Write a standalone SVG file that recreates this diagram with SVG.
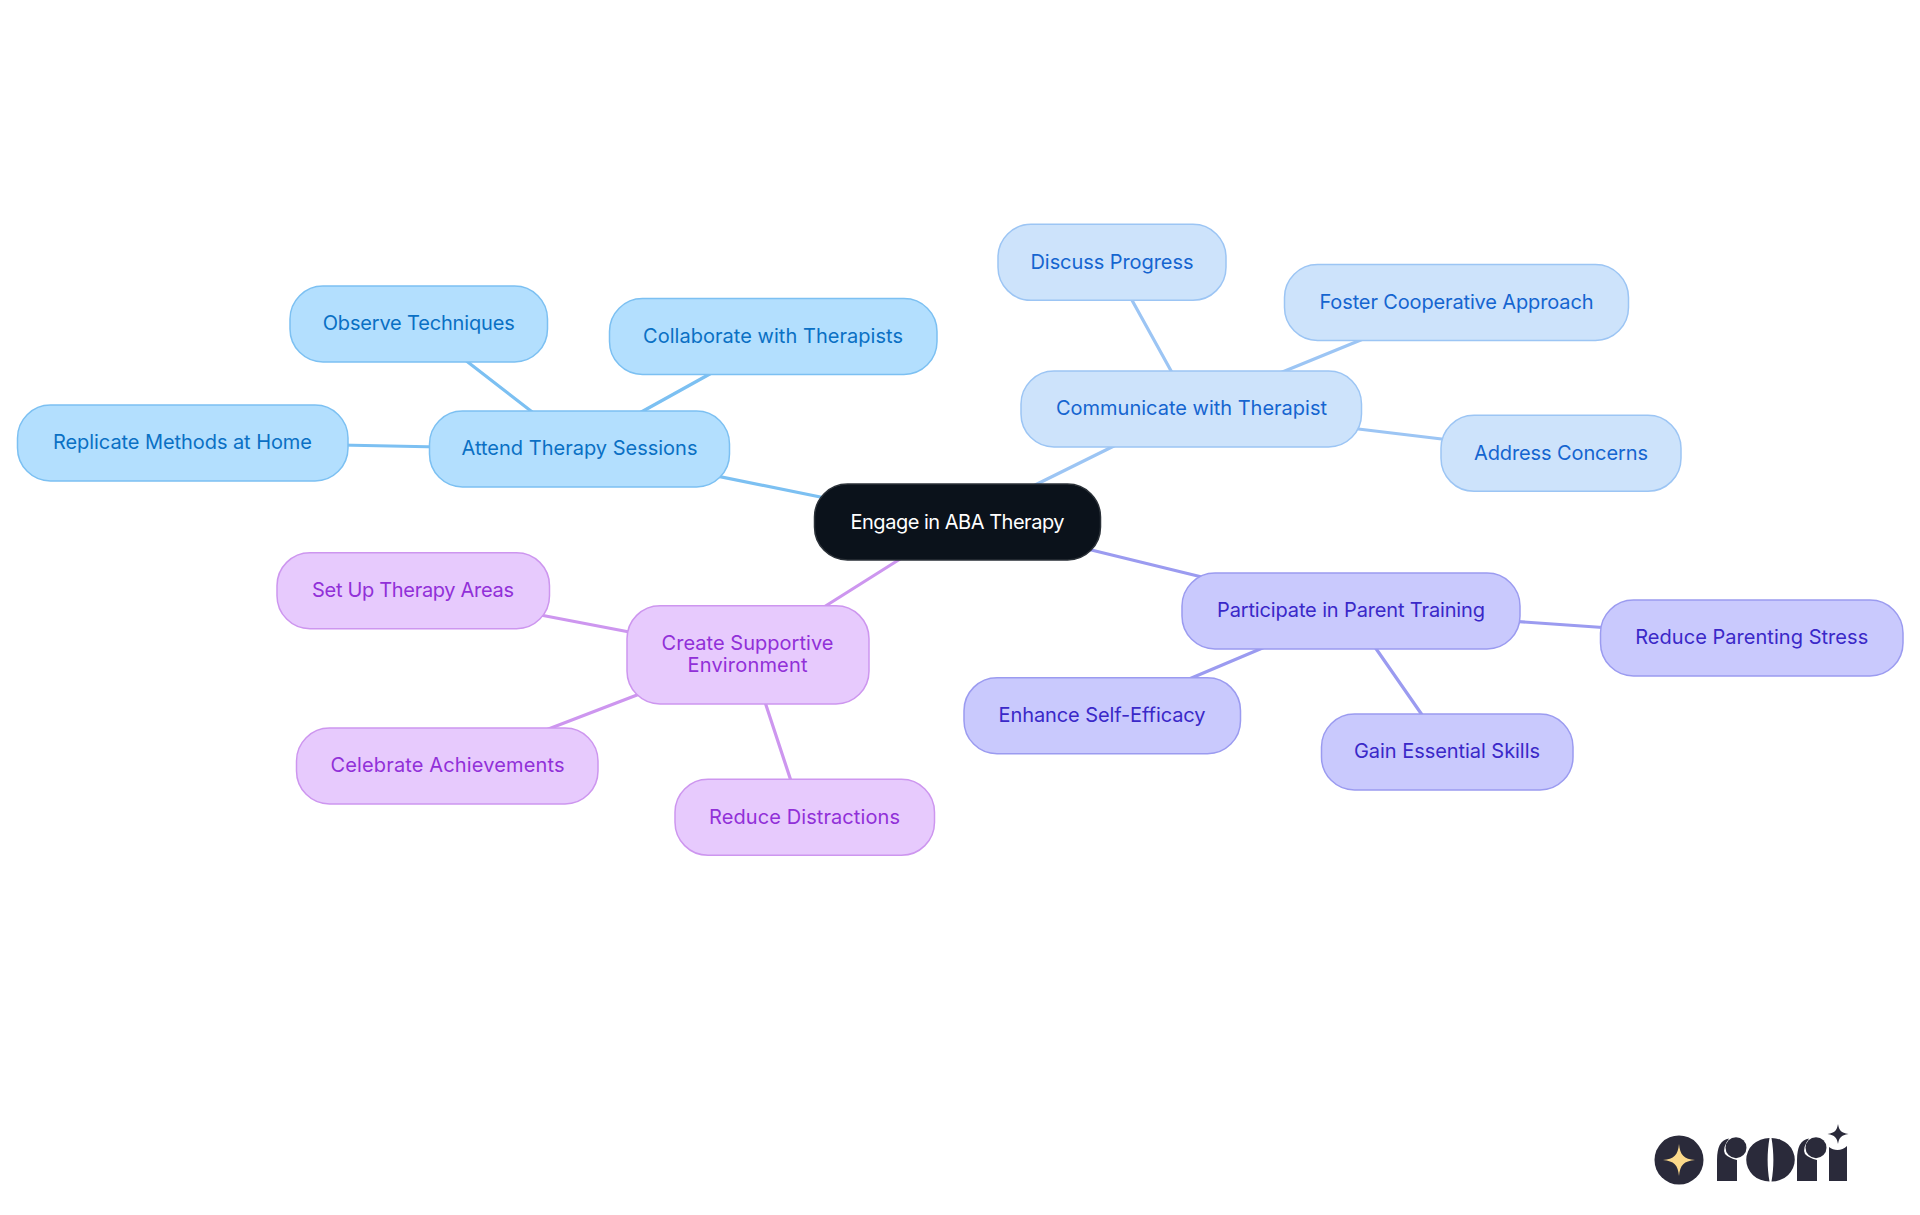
<svg xmlns="http://www.w3.org/2000/svg" width="1920" height="1215" viewBox="0 0 1920 1215">
<style>
text{font-family:"Inter","Noto Sans","Liberation Sans",sans-serif;font-size:20px;text-anchor:middle}
rect{stroke-width:1.5}
.c path{fill:none;stroke-width:3.2}
.a rect{fill:#b3dffe;stroke:#7cc0f2}.a text{fill:#0a70c4}
.b rect{fill:#cde3fb;stroke:#9cc5f4}.b text{fill:#1565d0}
.d rect{fill:#c9c9fd;stroke:#9b9bf0}.d text{fill:#3a28c8}
.e rect{fill:#e7cafd;stroke:#cd96ef}.e text{fill:#9130d8}
</style>
<rect width="1920" height="1215" fill="#fff" style="stroke:none"/>
<g class="c" id="connectors">
<path stroke="#7cc0f2" d="M840 501L705 473.600M540 418L460 356M635 415.500L717 370M440 447L340 445"/>
<path stroke="#9cc5f4" d="M1025 490L1124 441M1175 378L1128 293M1275 375L1373 335M1350 428L1450 440"/>
<path stroke="#9b9bf0" d="M1075 546L1210 579M1510 621L1610 628M1272 644L1182 682M1370 640L1427 722"/>
<path stroke="#cd96ef" d="M908 554L816 612M645 635L530 613M650 690L538 733M763 696L793 787"/>
</g>
<g id="root"><rect x="814.500" y="484" width="286" height="76" rx="33" fill="#0b121b" stroke="#2b3138"/><text x="957.500" y="529" fill="#fff" textLength="214">Engage in ABA Therapy</text></g>
<g id="n1" class="a"><rect x="429.500" y="411" width="300" height="76" rx="33"/><text x="579.500" y="455" textLength="236">Attend Therapy Sessions</text></g>
<g id="n2" class="a"><rect x="290" y="286" width="257.500" height="76" rx="33"/><text x="418.700" y="330" textLength="192">Observe Techniques</text></g>
<g id="n3" class="a"><rect x="609.500" y="298.500" width="327.500" height="76" rx="33"/><text x="773" y="343" textLength="260">Collaborate with Therapists</text></g>
<g id="n4" class="a"><rect x="17.500" y="405" width="330.500" height="76" rx="33"/><text x="182.500" y="449" textLength="259">Replicate Methods at Home</text></g>
<g id="n5" class="b"><rect x="1021" y="371" width="340.500" height="76" rx="33"/><text x="1191.500" y="415" textLength="271">Communicate with Therapist</text></g>
<g id="n6" class="b"><rect x="998" y="224.300" width="228" height="76" rx="33"/><text x="1112" y="269" textLength="163">Discuss Progress</text></g>
<g id="n7" class="b"><rect x="1284.500" y="264.500" width="344" height="76" rx="33"/><text x="1456.500" y="309" textLength="274">Foster Cooperative Approach</text></g>
<g id="n8" class="b"><rect x="1441" y="415.300" width="240" height="76" rx="33"/><text x="1561" y="460" textLength="174">Address Concerns</text></g>
<g id="n9" class="d"><rect x="1182" y="573" width="338" height="76" rx="33"/><text x="1351" y="617" textLength="268">Participate in Parent Training</text></g>
<g id="n10" class="d"><rect x="1600.500" y="600" width="302.500" height="76" rx="33"/><text x="1751.700" y="644" textLength="233">Reduce Parenting Stress</text></g>
<g id="n11" class="d"><rect x="964" y="677.700" width="276.500" height="76" rx="33"/><text x="1102" y="722" textLength="207">Enhance Self-Efficacy</text></g>
<g id="n12" class="d"><rect x="1321.500" y="714" width="251.500" height="76" rx="33"/><text x="1447" y="758" textLength="186">Gain Essential Skills</text></g>
<g id="n13" class="e"><rect x="627" y="605.700" width="242" height="98.300" rx="33"/><text x="747.500" y="650" textLength="172">Create Supportive</text><text x="747.500" y="672" textLength="120">Environment</text></g>
<g id="n14" class="e"><rect x="277" y="552.700" width="272.500" height="76" rx="33"/><text x="413" y="596.500" textLength="202">Set Up Therapy Areas</text></g>
<g id="n15" class="e"><rect x="296.500" y="728" width="301.500" height="76" rx="33"/><text x="447.500" y="772" textLength="234">Celebrate Achievements</text></g>
<g id="n16" class="e"><rect x="675" y="779.300" width="259.500" height="76" rx="33"/><text x="804.500" y="823.500" textLength="191">Reduce Distractions</text></g>
<g id="logo" fill="#2a2a3a">
<circle cx="1679" cy="1160" r="24.500"/>
<path fill="#fbd98a" d="M1679 1144C1680 1155 1684 1159 1695 1160C1684 1161 1680 1165 1679 1176C1678 1165 1674 1161 1663 1160C1674 1159 1678 1155 1679 1144Z"/>
<path d="M1717 1181V1160Q1717 1140 1729 1138.500Q1722 1148 1725 1154Q1729 1158 1737 1160V1181Z"/>
<circle cx="1736" cy="1147.700" r="10.500"/>
<path d="M1769.500 1138A23 21.500 0 0 0 1769.500 1181.500C1767 1167 1767 1153 1769.500 1138ZM1771.500 1138A23 21.500 0 0 1 1771.500 1181.500C1774 1167 1774 1153 1771.500 1138Z"/>
<path d="M1797 1181V1160Q1797 1140 1809 1138.500Q1802 1148 1805 1154Q1809 1158 1817 1160V1181Z"/>
<circle cx="1816" cy="1147.700" r="10.500"/>
<path d="M1829 1181V1147C1834 1151 1842 1151 1847 1146V1181Z"/>
<path d="M1838 1124C1839 1130 1841 1133 1848.500 1134C1841 1135 1839 1138 1838 1144C1837 1138 1835 1135 1827.500 1134C1835 1133 1837 1130 1838 1124Z"/>
</g>
</svg>
